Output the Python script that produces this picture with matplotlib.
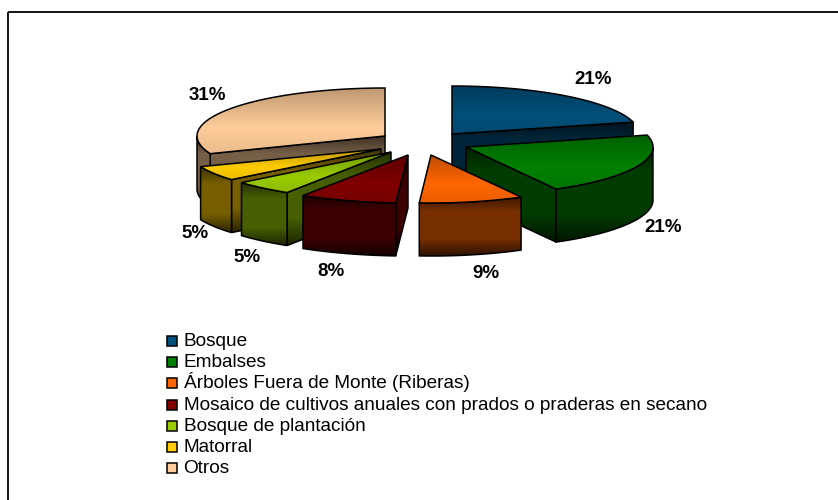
import numpy as np
import matplotlib
matplotlib.use("Agg")
import matplotlib.pyplot as plt
from matplotlib.patches import Polygon, Rectangle

# datos de la torta
categorias = ["Bosque", "Embalses", "Árboles Fuera de Monte (Riberas)",
              "Mosaico de cultivos anuales con prados o praderas en secano",
              "Bosque de plantación", "Matorral", "Otros"]
valores = [21, 21, 9, 8, 5, 5, 31]
colores = ["#00507A", "#008000", "#FF6600", "#800000", "#99CC00", "#FFCC00", "#FFCC99"]

# vertice de cada porcion (pixeles) y posicion de cada etiqueta
vertices = [(452, 134), (466, 147), (431, 155), (408, 155), (391, 152), (381, 149), (385, 136)]
radios_x = [187, 187, 187, 196, 194, 194, 188]
pos_etiquetas = [(593, 79), (663, 227), (486, 273), (331, 271), (247, 258), (195, 233), (207, 96)]
orden = [0, 6, 5, 4, 3, 1, 2]  # de atras hacia adelante

radio_y = 48
alto = 53

plt.rcParams["font.family"] = ["Liberation Sans", "DejaVu Sans"]
fig = plt.figure(figsize=(8.38, 5), dpi=100)
ax = fig.add_axes([0, 0, 1, 1])


def gradiente(puntos, color, paradas, factores, z):
    # rellena el poligono con un degradado vertical
    puntos = np.array(puntos)
    y0, y1 = puntos[:, 1].min(), puntos[:, 1].max()
    x0, x1 = puntos[:, 0].min(), puntos[:, 0].max()
    f = np.interp(np.linspace(0, 1, 64), paradas, factores)
    rgb = np.array(matplotlib.colors.to_rgb(color))
    img = np.clip(f[:, None, None] * rgb[None, None, :], 0, 1)
    im = ax.imshow(img, extent=(x0, x1, y1, y0), aspect="auto", zorder=z, interpolation="bilinear")
    borde = Polygon(puntos, closed=True, facecolor="none", edgecolor="black", lw=1.1, zorder=z + 0.1)
    ax.add_patch(borde)
    im.set_clip_path(borde)


def pared(puntos_arriba):
    p = np.array(puntos_arriba)
    abajo = p[::-1] + np.array([0, alto])
    return np.vstack([p, abajo])


PAR_LADO = ([0, 0.25, 0.7, 1], [0.25, 0.47, 0.47, 0.18])
PAR_ARRIBA = ([0, 0.6, 1], [0.75, 1, 0.92])

limites = np.cumsum([0] + valores) / sum(valores) * 360
z = 1
for i in orden:
    color = colores[i]
    ang = np.radians(np.linspace(limites[i], limites[i + 1], 80))
    ax0, ay0 = vertices[i]
    bx = ax0 + radios_x[i] * np.sin(ang)
    by = ay0 - radio_y * np.cos(ang)
    borde = np.column_stack([bx, by])
    a = np.array(vertices[i], dtype=float)
    medio = borde[len(borde) // 2]

    # caras radiales: solo las que miran al observador
    for p in (borde[0], borde[-1]):
        e = p - a
        m = medio - a
        if e[0] * (e[0] * m[1] - e[1] * m[0]) < 0:
            gradiente(pared([a, p]), color, *PAR_LADO, z)
            z += 1

    # pared exterior, parte delantera de la elipse
    frente = (np.degrees(ang) >= 90) & (np.degrees(ang) <= 270)
    if frente.sum() > 1:
        gradiente(pared(borde[frente]), color, *PAR_LADO, z)
        z += 1

    gradiente(np.vstack([a, borde]), color, *PAR_ARRIBA, z)
    z += 1

for v, (x, y) in zip(valores, pos_etiquetas):
    ax.text(x, y, f"{v}%", ha="center", va="center", fontsize=13.5, fontweight="bold",
            color="black", zorder=500)

# leyenda a mano para que las filas queden parejas
for i, (nombre, c) in enumerate(zip(categorias, colores)):
    y = 346 + 21.2 * i
    ax.add_patch(Rectangle((167, y - 10), 10, 10, facecolor=c, edgecolor="black", lw=1.1, zorder=500))
    ax.text(183.5, y, nombre, ha="left", va="baseline", fontsize=13.72, color="black", zorder=500)

# el marco se sale de la imagen por la derecha y por abajo
ax.add_patch(Rectangle((8, 11.5), 900, 600, fill=False, edgecolor="black", lw=1.3, zorder=600))
ax.set_xlim(0, 838)
ax.set_ylim(500, 0)
ax.axis("off")
fig.savefig("out.png", dpi=100)
